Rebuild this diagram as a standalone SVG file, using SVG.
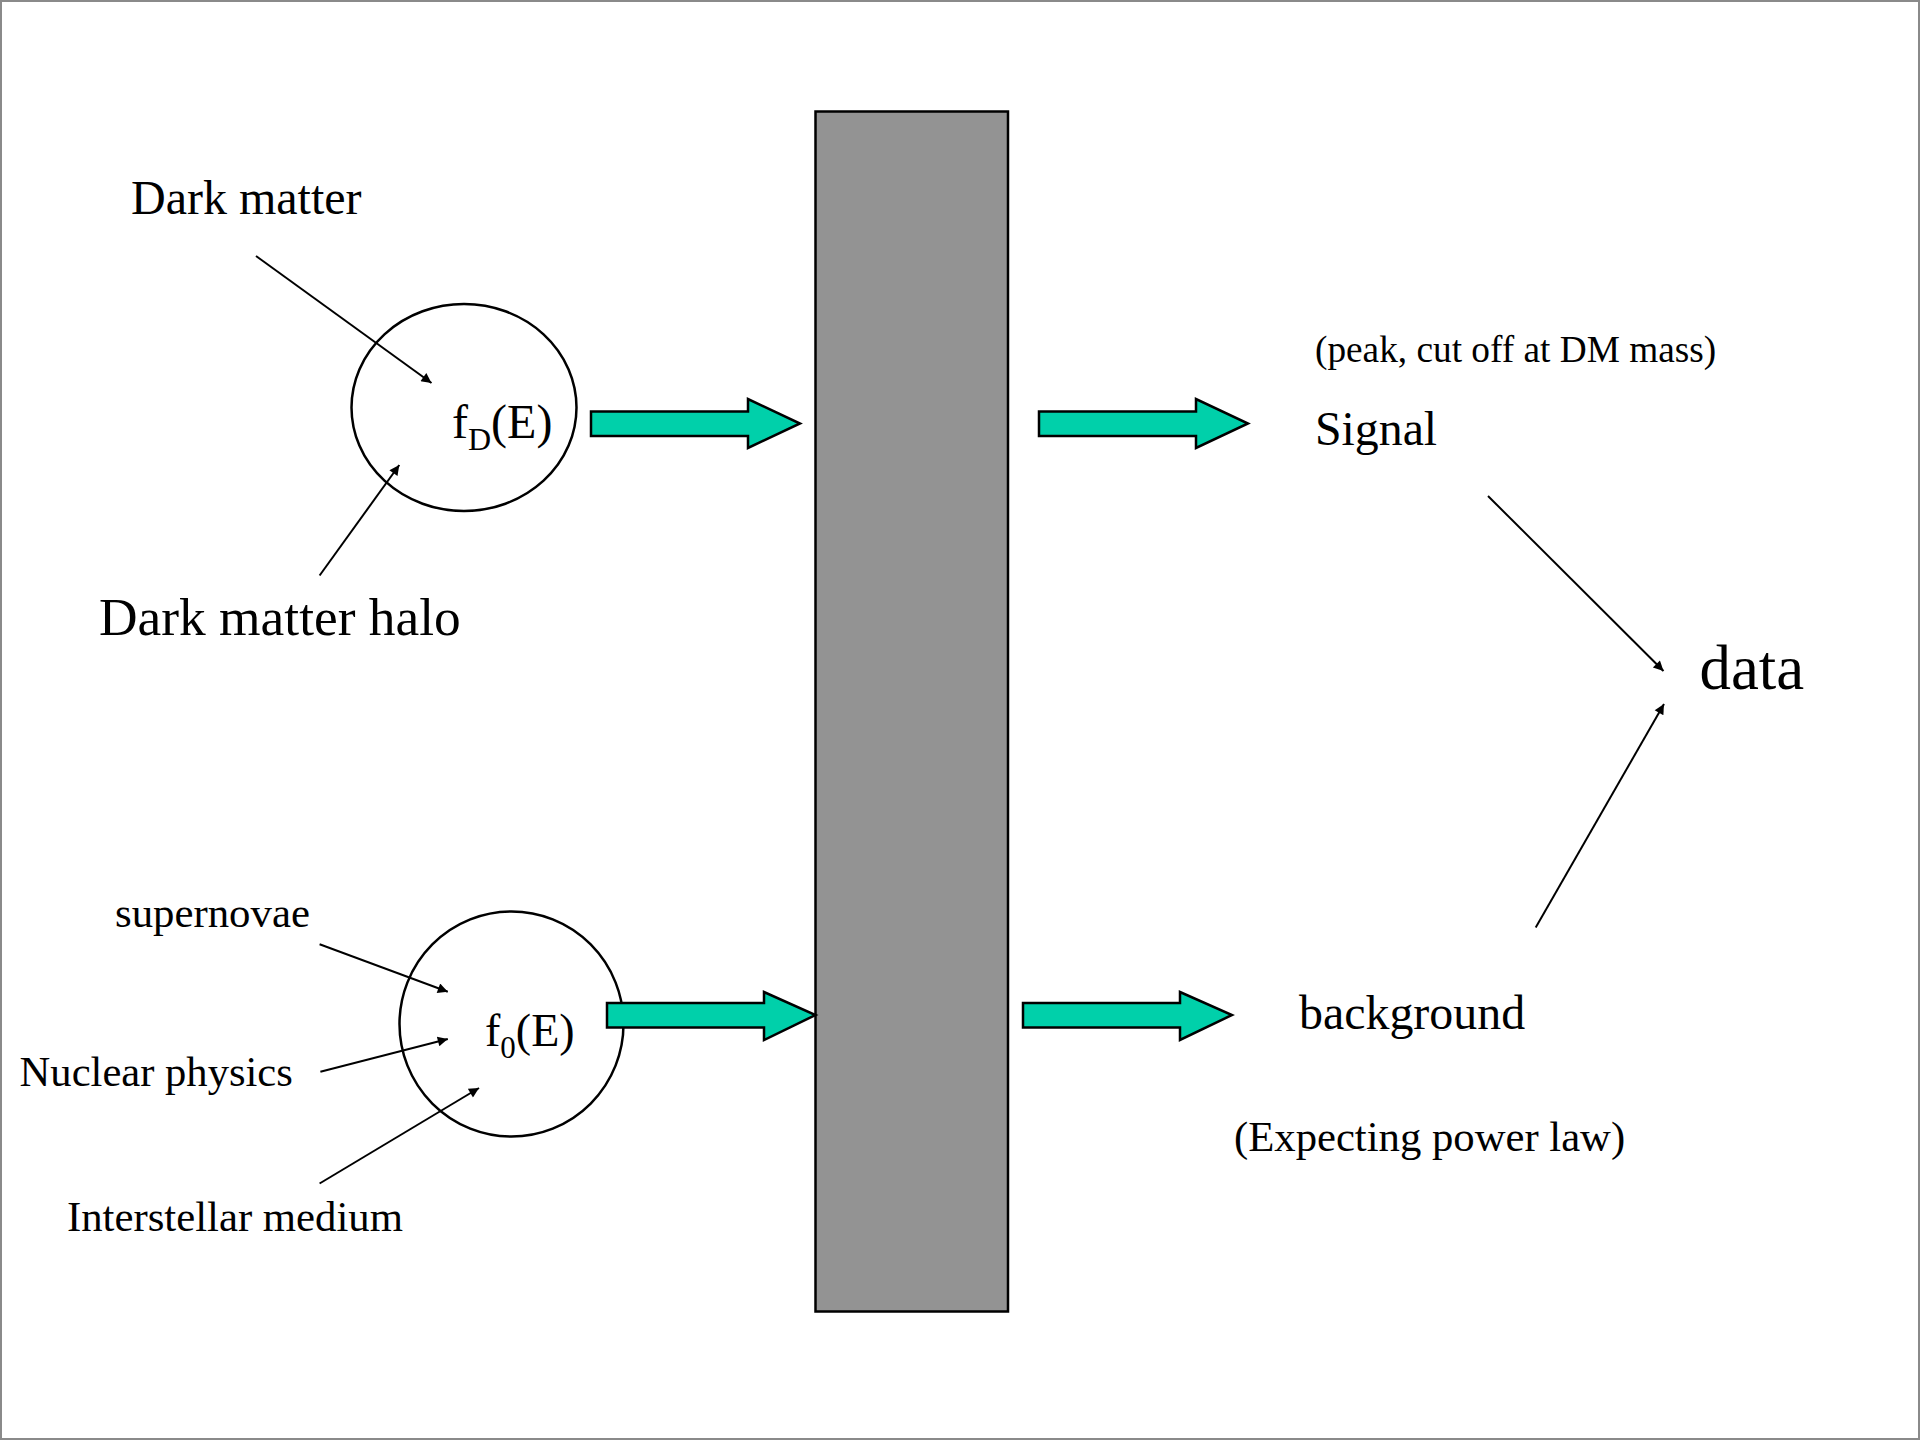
<svg xmlns="http://www.w3.org/2000/svg" width="1920" height="1440" viewBox="0 0 1920 1440">
<style>
text{font-family:"Liberation Serif","Times New Roman",serif;fill:#000}
.c{fill:none;stroke:#000;stroke-width:2.5}
.big{fill:#00D0AA;stroke:#000;stroke-width:2.5;stroke-linejoin:miter}
.ln{stroke:#000;stroke-width:2;fill:none;marker-end:url(#ah)}
</style>
<defs>
<marker id="ah" viewBox="0 0 10 10" refX="10" refY="5" markerWidth="7" markerHeight="5" orient="auto" markerUnits="strokeWidth">
<path d="M0,0 L10,5 L0,10 Z" fill="#000"/>
</marker>
</defs>
<rect x="0" y="0" width="1920" height="1440" fill="#fff"/>
<rect x="1" y="1" width="1918" height="1438" fill="none" stroke="#8a8a8a" stroke-width="2"/>
<g id="filter-bar"><rect x="815.5" y="111.5" width="192.5" height="1200" fill="#939393" stroke="#000" stroke-width="2.5"/></g>
<g id="node-fD"><ellipse class="c" cx="464" cy="407.5" rx="112.5" ry="103.5"/><text x="452" y="438" font-size="48">f<tspan font-size="32" dy="12">D</tspan><tspan dy="-12">(E)</tspan></text></g>
<g id="node-f0"><ellipse class="c" cx="511.5" cy="1024" rx="112" ry="112.5"/><text x="485" y="1045.5" font-size="46">f<tspan font-size="31" dy="12">0</tspan><tspan dy="-12">(E)</tspan></text></g>
<g id="label-dark-matter"><text x="131" y="214" font-size="48">Dark matter</text></g>
<g id="label-halo"><text x="99" y="635" font-size="53.4">Dark matter halo</text></g>
<g id="label-supernovae"><text x="115" y="927" font-size="42.8">supernovae</text></g>
<g id="label-nuclear"><text x="19.6" y="1086" font-size="42.6">Nuclear physics</text></g>
<g id="label-ism"><text x="67" y="1231" font-size="42.75">Interstellar medium</text></g>
<g id="label-peak"><text x="1315" y="362" font-size="37.3">(peak, cut off at DM mass)</text></g>
<g id="node-signal"><text x="1315" y="444.5" font-size="47.8">Signal</text></g>
<g id="node-data"><text x="1699.6" y="689" font-size="62.8">data</text></g>
<g id="node-background"><text x="1299" y="1028.6" font-size="47.9">background</text></g>
<g id="label-power"><text x="1234" y="1151" font-size="42.7">(Expecting power law)</text></g>
<g id="connectors">
<polygon class="big" points="591,411.5 748,411.5 748,399 800,423.5 748,448 748,436 591,436"/>
<polygon class="big" points="1039,411.5 1196,411.5 1196,399 1248,423.5 1196,448 1196,436 1039,436"/>
<polygon class="big" points="607,1003 764,1003 764,992 815.5,1015 764,1040 764,1027.5 607,1027.5"/>
<polygon class="big" points="1023,1003 1180,1003 1180,992 1232,1015 1180,1040 1180,1027.5 1023,1027.5"/>
<line class="ln" x1="256" y1="256" x2="431.5" y2="383"/>
<line class="ln" x1="319.6" y1="575.5" x2="399.3" y2="465"/>
<line class="ln" x1="319.6" y1="944.3" x2="447.8" y2="991.7"/>
<line class="ln" x1="320.4" y1="1071.7" x2="447.8" y2="1039"/>
<line class="ln" x1="319.6" y1="1183.5" x2="479" y2="1088"/>
<line class="ln" x1="1488" y1="496" x2="1663.5" y2="671"/>
<line class="ln" x1="1535.7" y1="927.5" x2="1664" y2="704"/>
</g>
</svg>
